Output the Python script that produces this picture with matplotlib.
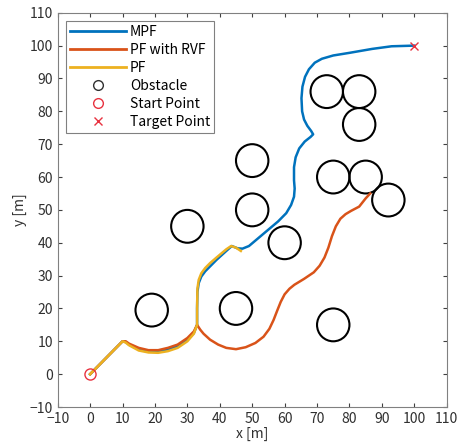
import matplotlib.pyplot as plt
from matplotlib.patches import Circle
from matplotlib.lines import Line2D

plt.rcParams['font.family'] = ['Noto Sans CJK JP', 'DejaVu Sans']
plt.rcParams['font.size'] = 10

# MPF 路径
mpf_x = [0, 10, 11, 12, 15, 18, 21, 24, 27, 30, 32, 33, 33, 33.1, 33.5, 34.3, 35.5, 37, 39, 42, 43.7, 45.5, 47, 49,
         52, 55, 58, 60.5, 62, 62.9, 63.1, 62.9, 62.9, 63.4, 64.5, 66.2, 68, 68.8, 68.2, 67, 66, 65.4, 65.2, 65.5,
         66.3, 67.5, 69.3, 71.5, 75, 80, 87, 93, 100]
mpf_y = [0, 10, 9.8, 9, 7.6, 7, 7, 7.5, 8.5, 10.5, 12.5, 15, 20, 25, 27.7, 29.7, 31.3, 32.8, 34.8, 37.5, 39, 38.3, 38.2, 39,
         41.5, 44, 46.5, 49, 51.5, 54, 56.5, 59, 63, 66, 68.7, 70.8, 72.2, 73, 74, 75.6, 77.5, 80, 84, 87.5,
         90.5, 92.8, 94.8, 96, 97, 97.8, 99, 99.8, 100]

# PF with RVF 路径
rvf_x = [0, 10, 11, 12, 15, 18, 21, 24, 27, 30, 32, 33, 34, 35, 37, 39.5, 42, 45, 48, 51, 53.5, 55.3,
         56.6, 57.7, 58.8, 60, 61.5, 63, 66, 69, 70.8, 72.3, 73.5, 74.6, 75.8, 77.2, 78.8, 80.5, 83, 85, 86.4]
rvf_y = [0, 10, 10, 9.3, 8, 7.3, 7.3, 8, 9, 11, 13, 15, 13.5, 12.3, 10.5, 9, 8, 7.6, 8.2, 9.5, 11.4, 13.8,
         16.5, 19.3, 22, 24.3, 26, 27.2, 29, 31, 33, 35.5, 38.5, 42, 45, 47.3, 48.7, 49.7, 51, 53.5, 55]

# PF 路径
pf_x = [0, 10, 11, 12, 15, 18, 21, 24, 27, 30, 32, 33, 33, 33.1, 33.5, 34.3, 35.5, 37, 39, 42, 43.5, 45, 46.5]
pf_y = [0, 10, 9.6, 8.8, 7.2, 6.6, 6.5, 7, 8, 10, 12.3, 15, 20, 26, 28.7, 30.7, 32.3, 33.8, 35.5, 38, 39, 38.5, 37.5]

# 障碍物
obs_x = [19, 30, 45, 50, 50, 60, 75, 73, 83, 83, 75, 85, 92]
obs_y = [19.5, 45, 20, 65, 50, 40, 15, 86, 86, 76, 60, 60, 53]
obs_r = 5

start = (0, 0)
target = (100, 100)

c_blue = '#0072BD'
c_orange = '#D95319'
c_yellow = '#EDB120'
c_red = '#E8323F'

fig = plt.figure(figsize=(4.63, 4.48), dpi=100)
ax = fig.add_axes([0.1246, 0.0915, 0.8402, 0.880])

ax.plot(mpf_x, mpf_y, color=c_blue, lw=1.8, label='MPF')
ax.plot(rvf_x, rvf_y, color=c_orange, lw=1.8, label='PF with RVF')
ax.plot(pf_x, pf_y, color=c_yellow, lw=1.8, label='PF')

for cx, cy in zip(obs_x, obs_y):
    ax.add_patch(Circle((cx, cy), obs_r, fill=False, ec='black', lw=1.5))

ax.plot(start[0], start[1], 'o', mfc='none', mec=c_red, ms=8, mew=1.0)
ax.plot(target[0], target[1], 'x', color=c_red, ms=6, mew=1.0)

handles = [
    Line2D([], [], color=c_blue, lw=2),
    Line2D([], [], color=c_orange, lw=2),
    Line2D([], [], color=c_yellow, lw=2),
    Line2D([], [], ls='none', marker='o', mfc='none', mec='#303030', ms=7),
    Line2D([], [], ls='none', marker='o', mfc='none', mec=c_red, ms=7),
    Line2D([], [], ls='none', marker='x', color=c_red, ms=6),
]
labels = ['MPF', 'PF with RVF', 'PF', 'Obstacle', 'Start Point', 'Target Point']
leg = ax.legend(handles, labels, loc='upper left', fancybox=False, edgecolor='#808080',
                framealpha=1, handlelength=4.0, handletextpad=0.3, labelspacing=0.28,
                borderpad=0.3, borderaxespad=0.6, fontsize=10)
leg.get_frame().set_linewidth(0.8)

ax.set_xlim(-10, 110)
ax.set_ylim(-10, 110)
ax.set_xticks(range(-10, 111, 10))
ax.set_yticks(range(-10, 111, 10))
ax.tick_params(direction='in', top=True, right=True, length=3, colors='#404040', labelcolor='#303030')
for s in ax.spines.values():
    s.set_color('#808080')
    s.set_linewidth(0.8)
ax.set_xlabel('x [m]', color='#303030', labelpad=1)
ax.set_ylabel('y [m]', color='#303030', labelpad=2)

plt.savefig('out.png', dpi=100)
